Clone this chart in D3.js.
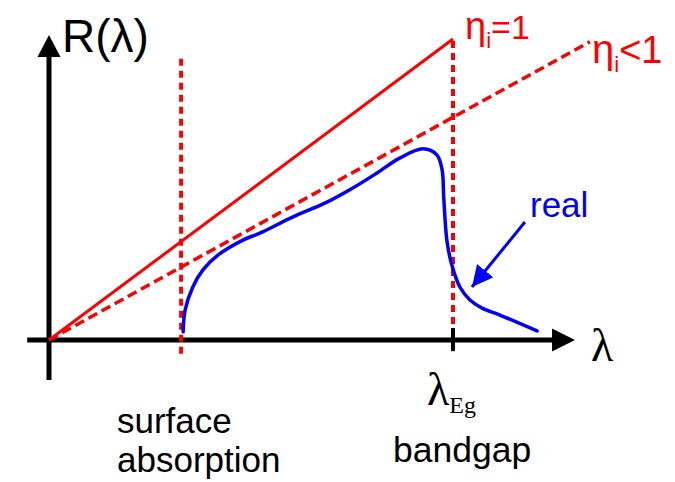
<!DOCTYPE html>
<html><head><meta charset="utf-8">
<script src="https://cdn.jsdelivr.net/npm/d3@7"></script>
<style>body{margin:0;background:#fff}svg{display:block}</style>
</head><body><svg id="c" width="675" height="482"></svg>
<script>
// ---- data (normalized units: x = λ/λEg, y = R) ----
const surfaceX = 0.327;      // surface absorption edge
const bandgapX = 1.0;        // λEg
const etaIdeal = 1.0;        // slope of ηi = 1 line
const etaReal = 0.74;        // slope of ηi < 1 line
const etaIdealEnd = 1.0;     // x where ηi=1 line ends
const etaRealEnd = 1.339;    // x where ηi<1 line ends
const realX = [0.332,0.337,0.356,0.381,0.418,0.480,0.522,0.604,0.688,0.752,0.812,0.869,0.926,0.960,0.973,0.977,0.985,0.997,1.017,1.042,1.072,1.116,1.208];
const realY = [0.027,0.100,0.176,0.233,0.282,0.332,0.355,0.409,0.458,0.505,0.555,0.605,0.635,0.615,0.565,0.475,0.330,0.250,0.176,0.133,0.106,0.083,0.030];
const labels = {yAxis:"R(λ)", xAxis:"λ", eg:"Eg", surface:["surface","absorption"], bandgap:"bandgap", real:"real"};

const svg = d3.select("#c");
const x = d3.scaleLinear().domain([0, 1]).range([49, 453]);
const y = d3.scaleLinear().domain([0, 1]).range([340, 39]);
const RED = "#ff0000", BLUE = "#0000ff";

// axes
const gAx = svg.append("g");
gAx.append("line").attr("x1", x(-0.054)).attr("x2", x(1.245)).attr("y1", y(0)).attr("y2", y(0))
  .attr("stroke", "#000").attr("stroke-width", 5);
gAx.append("line").attr("x1", x(0)).attr("x2", x(0)).attr("y1", y(-0.133)).attr("y2", y(0.945))
  .attr("stroke", "#000").attr("stroke-width", 5);
gAx.append("path").attr("d", `M${x(1.302)},${y(0)} L${x(1.245)},${y(0)-11.5} L${x(1.245)},${y(0)+11.5} Z`).attr("fill", "#000");
gAx.append("path").attr("d", `M${x(0)},${y(1.013)} L${x(0)-11.5},${y(0.94)} L${x(0)+11.5},${y(0.94)} Z`).attr("fill", "#000");
gAx.append("line").attr("x1", x(bandgapX)).attr("x2", x(bandgapX)).attr("y1", y(0.04)).attr("y2", y(-0.037))
  .attr("stroke", "#000").attr("stroke-width", 4);

// ideal line
svg.append("line").attr("x1", x(0)).attr("y1", y(0)).attr("x2", x(etaIdealEnd)).attr("y2", y(etaIdeal*etaIdealEnd))
  .attr("stroke", RED).attr("stroke-width", 3);
// ηi<1 dashed line
svg.append("line").attr("x1", x(0)).attr("y1", y(0)).attr("x2", x(etaRealEnd)).attr("y2", y(etaReal*etaRealEnd))
  .attr("stroke", RED).attr("stroke-width", 3.5).attr("stroke-dasharray", "10,5");

// vertical dashed lines
svg.append("line").attr("x1", x(surfaceX)).attr("x2", x(surfaceX)).attr("y1", y(0.934)).attr("y2", y(-0.05))
  .attr("stroke", RED).attr("stroke-width", 4).attr("stroke-dasharray", "7,5");
svg.append("line").attr("x1", x(bandgapX)).attr("x2", x(bandgapX)).attr("y1", y(0.993)).attr("y2", y(0.04))
  .attr("stroke", RED).attr("stroke-width", 4).attr("stroke-dasharray", "7,5");

// real curve
const pts = realX.map((v, i) => [v, realY[i]]);
svg.append("path").datum(pts)
  .attr("d", d3.line().x(d => x(d[0])).y(d => y(d[1])).curve(d3.curveCatmullRom.alpha(0.5)))
  .attr("fill", "none").attr("stroke", BLUE).attr("stroke-width", 3.5).attr("stroke-linecap", "round");

// pointer arrow
const ax0 = [1.178, 0.392], ax1 = [1.047, 0.176];
svg.append("defs").append("marker").attr("id", "ah").attr("viewBox", "0 0 10 10").attr("refX", 10).attr("refY", 5)
  .attr("markerWidth", 7).attr("markerHeight", 7).attr("markerUnits", "strokeWidth").attr("orient", "auto")
  .append("path").attr("d", "M0,0 L10,5 L0,10 Z").attr("fill", BLUE);
svg.append("line").attr("x1", x(ax0[0])).attr("y1", y(ax0[1])).attr("x2", x(ax1[0])).attr("y2", y(ax1[1]))
  .attr("stroke", BLUE).attr("stroke-width", 3).attr("marker-end", "url(#ah)");

// labels
const sans = "'Liberation Sans', Arial, sans-serif", serif = "'Liberation Serif', 'Times New Roman', serif";
svg.append("text").attr("x", 62).attr("y", 52).attr("font-family", sans).attr("font-size", 46).text(labels.yAxis);
svg.append("text").attr("x", 591).attr("y", 361).attr("font-family", serif).attr("font-size", 46).text(labels.xAxis);
const t1 = svg.append("text").attr("x", 465).attr("y", 39).attr("font-family", sans).attr("fill", RED);
t1.append("tspan").attr("font-size", 38).text("η");
t1.append("tspan").attr("font-size", 22).attr("dy", 9).text("i");
t1.append("tspan").attr("font-size", 34).attr("dy", -9).text("=1");
const t2 = svg.append("text").attr("x", 592).attr("y", 63).attr("font-family", sans).attr("fill", RED);
t2.append("tspan").attr("font-size", 40).text("η");
t2.append("tspan").attr("font-size", 22).attr("dy", 9).text("i");
t2.append("tspan").attr("font-size", 38).attr("dy", -9).text("<1");
svg.append("text").attr("x", 530).attr("y", 217).attr("font-family", sans).attr("font-size", 35).attr("fill", BLUE).text(labels.real);
const teg = svg.append("text").attr("x", 427).attr("y", 405).attr("font-family", serif);
teg.append("tspan").attr("font-size", 46).text("λ");
teg.append("tspan").attr("font-size", 24).attr("dy", 8).text(labels.eg);
svg.append("text").attr("x", 393).attr("y", 462).attr("font-family", sans).attr("font-size", 35.5).text(labels.bandgap);
svg.append("text").attr("x", 117).attr("y", 433).attr("font-family", sans).attr("font-size", 35).text(labels.surface[0]);
svg.append("text").attr("x", 117).attr("y", 472).attr("font-family", sans).attr("font-size", 35).text(labels.surface[1]);
</script></body></html>
